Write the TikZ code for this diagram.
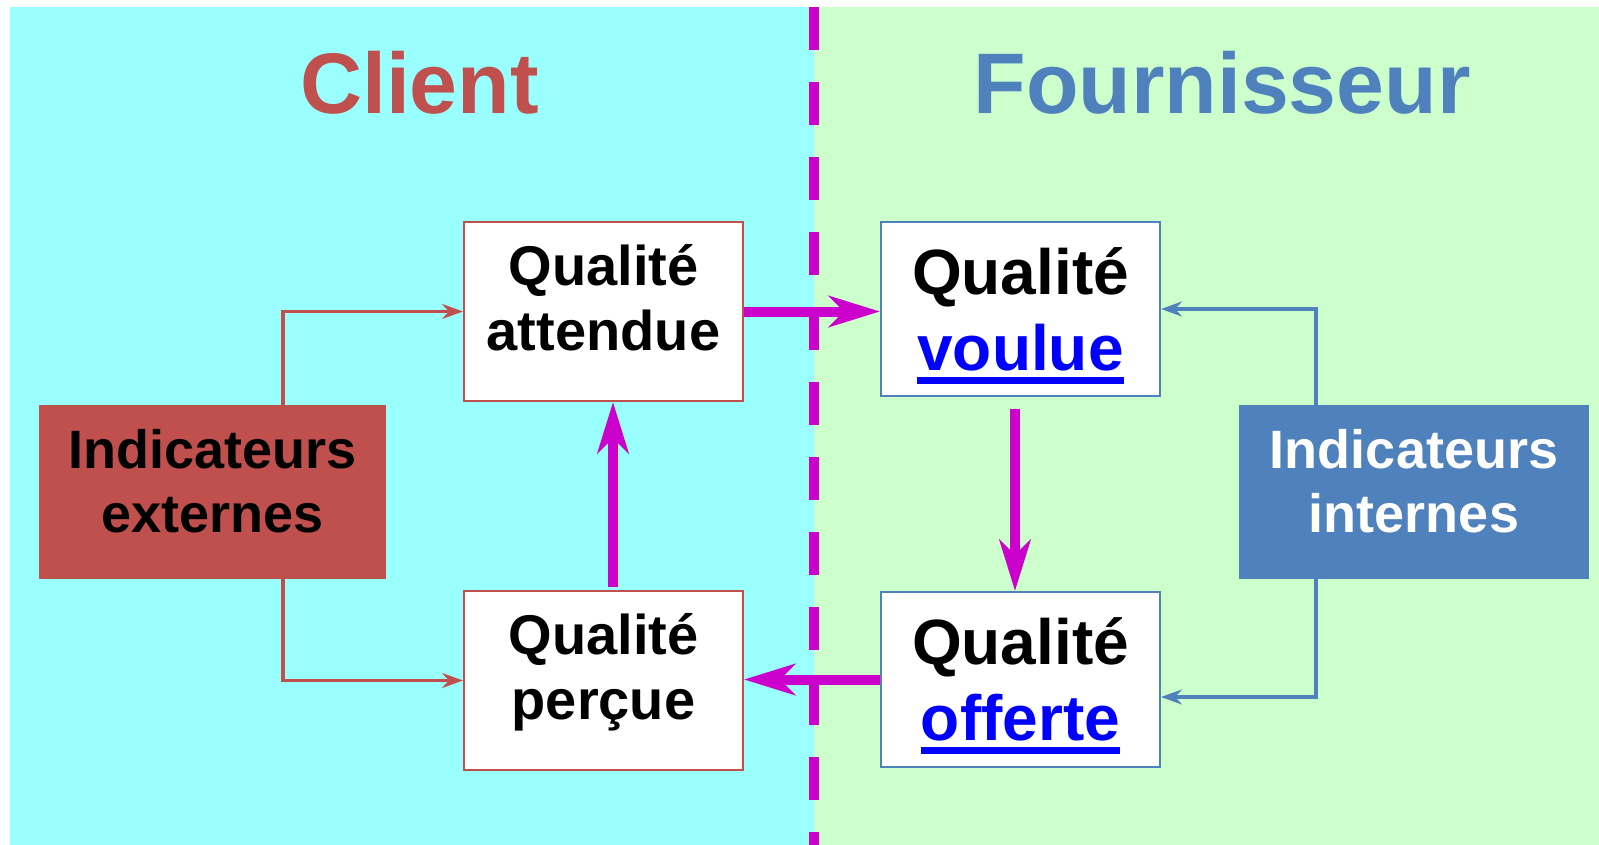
\documentclass[tikz,border=0pt]{standalone}
\usepackage{fontspec}
\setmainfont{Liberation Sans}
\usetikzlibrary{arrows.meta,calc}

\definecolor{clientbg}{HTML}{99FFFF}
\definecolor{supplierbg}{HTML}{CCFFCC}
\definecolor{clientred}{HTML}{C0504D}
\definecolor{supplierblue}{HTML}{4F81BD}
\definecolor{flowmag}{HTML}{CC00CC}
\definecolor{linkblue}{HTML}{0000FF}

% underlined word with a heavy rule, like a hyperlink
\newcommand\ulword[1]{\leavevmode\setbox0\hbox{#1}\rlap{\rule[-14pt]{\wd0}{7pt}}\box0}

\begin{document}
\begin{tikzpicture}[x=1pt,y=-1pt,
  qbox/.style={rectangle, fill=white, line width=2pt, inner sep=0pt},
  ind/.style={rectangle, inner sep=0pt, minimum width=#1, minimum height=174pt},
  txt/.style={anchor=base, align=center, inner sep=0pt, font=\bfseries},
  title/.style={anchor=base, inner sep=0pt, font=\fontsize{86}{96}\selectfont\bfseries},
  thin/.style={line width=3.5pt, -{Stealth[length=21pt,width=15pt,inset=7pt]}},
  flow/.style={draw=flowmag, line width=10pt, -{Stealth[length=51pt,width=31pt,inset=15pt]}}
]
\useasboundingbox (0,0) rectangle (1599,845);

% backgrounds of the two sides
\fill[white] (0,0) rectangle (1599,845);
\fill[clientbg] (10,7) rectangle (814,845);
\fill[supplierbg] (814,7) rectangle (1599,845);

% dividing line
\draw[flowmag, line width=10pt, dash pattern=on 43pt off 32pt] (814,7) -- (814,845);

% headings
\node[title, text=clientred] (tclient) at (419.5,114) {Client};
\node[title, text=supplierblue] (tsupplier) at (1222,114) {Fournisseur};

% quality boxes
\node[qbox, draw=clientred, minimum width=279pt, minimum height=179pt] (att) at (603.5,311.5) {};
\node[qbox, draw=clientred, minimum width=279pt, minimum height=179pt] (per) at (603.5,680.5) {};
\node[qbox, draw=supplierblue, minimum width=279pt, minimum height=174pt] (vou) at (1020.5,309) {};
\node[qbox, draw=supplierblue, minimum width=279pt, minimum height=175pt] (off) at (1020.5,679.5) {};

% box texts, placed by the baseline of their last line
\node[txt, font=\fontsize{56}{65}\selectfont\bfseries] (tatt) at (603.5,350) {Qualité\\attendue};
\node[txt, font=\fontsize{56}{65}\selectfont\bfseries] (tper) at (603.5,719) {Qualité\\perçue};
\node[txt, font=\fontsize{64}{76}\selectfont\bfseries] (tvou) at (1020.5,370) {Qualité\\\textcolor{linkblue}{\ulword{voulue}}};
\node[txt, font=\fontsize{64}{76}\selectfont\bfseries] (toff) at (1020.5,740) {Qualité\\\textcolor{linkblue}{\ulword{offerte}}};

% indicator boxes
\node[ind=347pt, fill=clientred] (ext) at (212.5,492) {};
\node[ind=350pt, fill=supplierblue] (int) at (1414,492) {};
\node[txt, font=\fontsize{54}{64}\selectfont\bfseries] (text) at (212.5,532) {Indicateurs\\externes};
\node[txt, text=white, font=\fontsize{54}{64}\selectfont\bfseries] (tint) at (1414,532) {Indicateurs\\internes};

% indicator connectors
\coordinate (rx) at (283,0);
\coordinate (bx) at (1316,0);
\draw[thin, clientred] (ext.north -| rx) |- (att.west);
\draw[thin, clientred] (ext.south -| rx) |- (per.west);
\draw[thin, supplierblue] (int.north -| bx) |- (vou.east);
\draw[thin, supplierblue] (int.south -| bx) |- ($(off.east)+(0,17.5)$);

% quality loop
\coordinate (vx) at (1015,0);
\coordinate (px) at (613,0);
\draw[flow] (att.east) -- (att.east -| vou.west);
\draw[flow] ($(vou.south -| vx)+(0,12)$) -- (off.north -| vx);
\draw[flow] (off.west) -- (off.west -| per.east);
\draw[flow] ($(per.north -| px)+(0,-3)$) -- (att.south -| px);
\end{tikzpicture}
\end{document}
